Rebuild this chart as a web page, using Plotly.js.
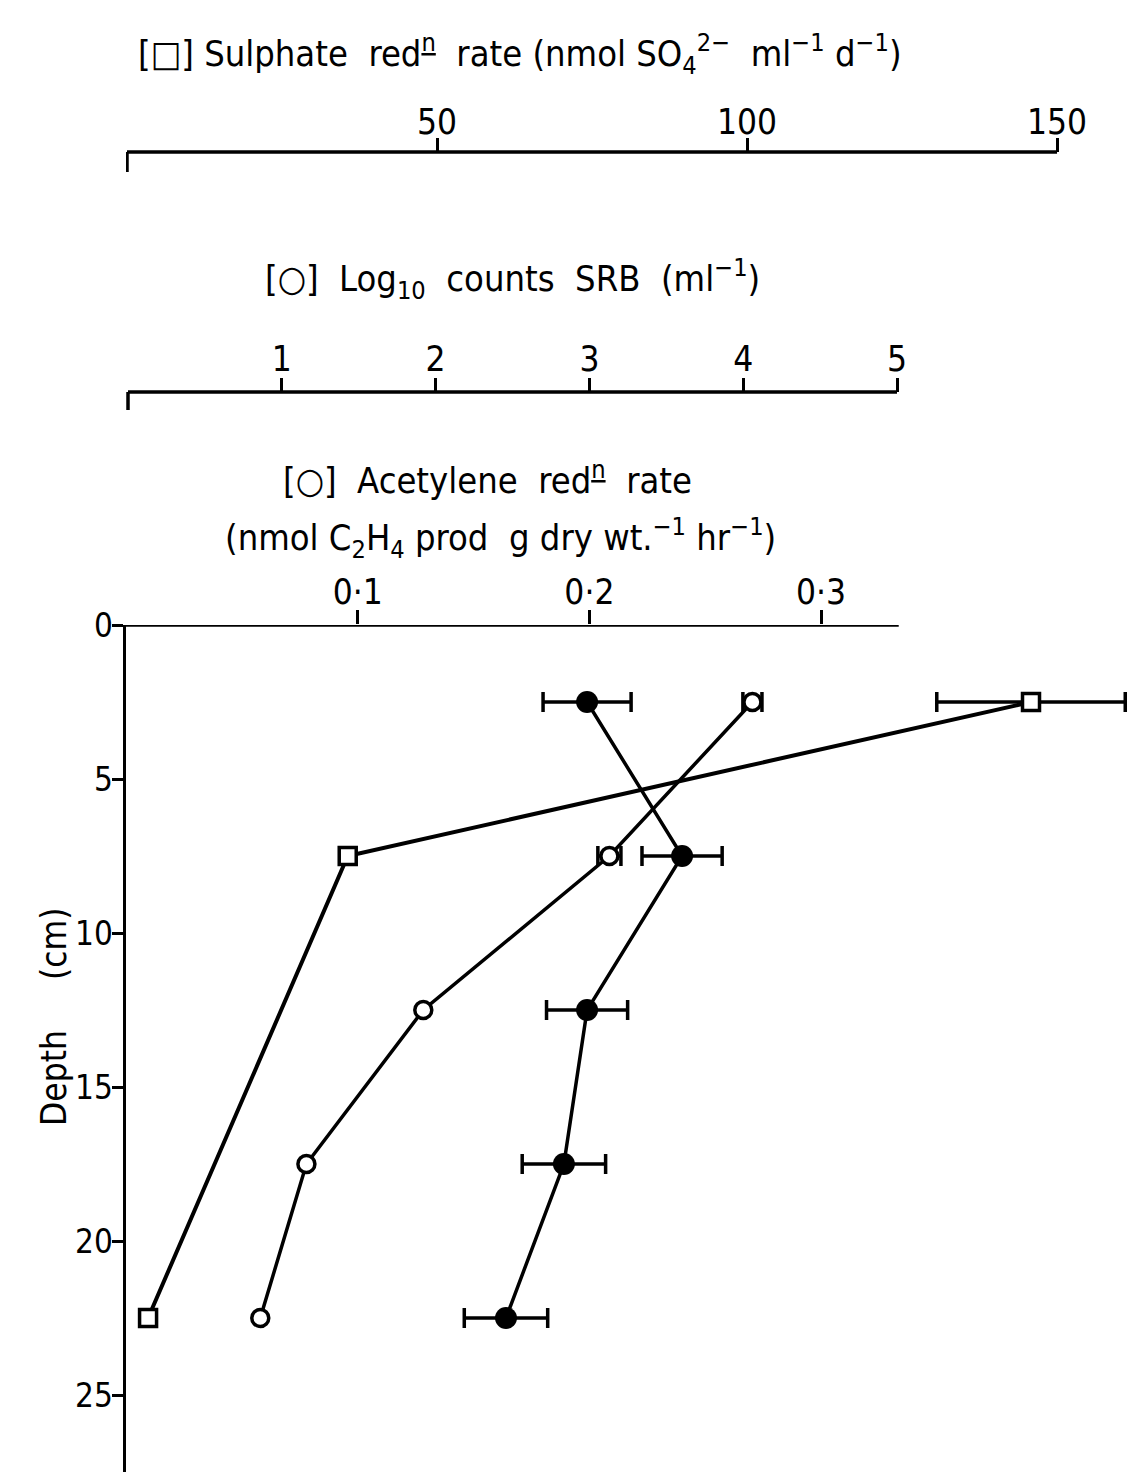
<!DOCTYPE html>
<html><head><meta charset="utf-8">
<script src="https://cdn.plot.ly/plotly-3.0.1.min.js"></script>
<style>html,body{margin:0;padding:0;background:#fff}</style>
</head><body>
<div id="chart" style="width:1142px;height:1472px"></div>
<script>
// ---- data ----
const depthSulphate = [2.5, 7.5, 22.5];
const sulphateRate = [145.8, 35.6, 3.4];
const sulphateErr = [15.2, null, null];

const depthSRB = [2.5, 7.5, 12.5, 17.5, 22.5];
const srbLogCounts = [4.06, 3.13, 1.92, 1.16, 0.86];
const srbErr = [0.062, 0.075, null, null, null];

const depthAcetylene = [2.5, 7.5, 12.5, 17.5, 22.5];
const acetyleneRate = [0.199, 0.240, 0.199, 0.189, 0.164];
const acetyleneErr = [0.019, 0.0173, 0.0175, 0.018, 0.018];

const depthTicks = [0, 5, 10, 15, 20, 25];
const sulphateTicks = [50, 100, 150];
const srbTicks = [1, 2, 3, 4, 5];
const acetyleneTicks = [0.1, 0.2, 0.3];
const acetyleneTickText = ['0·1', '0·2', '0·3'];

// ---- styling ----
const FONT = '"DejaVu Sans Condensed", "Liberation Sans Narrow", "DejaVu Sans", sans-serif';
const INK = '#000';
const W = 1142, H = 1472, L = 126;
const px = v => (v - L) / (W - L);   // pixel x -> paper x
const py = v => 1 - v / H;           // pixel y -> paper y

const traces = [
  {
    x: sulphateRate, y: depthSulphate, xaxis: 'x2', yaxis: 'y',
    mode: 'lines+markers', type: 'scatter',
    line: {color: INK, width: 4},
    marker: {symbol: 'square', size: 17, color: '#fff', line: {color: INK, width: 3.5}},
    error_x: {type: 'data', array: sulphateErr, visible: true, color: INK, thickness: 3.5, width: 10},
    cliponaxis: false
  },
  {
    x: srbLogCounts, y: depthSRB, xaxis: 'x3', yaxis: 'y',
    mode: 'lines+markers', type: 'scatter',
    line: {color: INK, width: 3.5},
    marker: {symbol: 'circle', size: 17, color: '#fff', line: {color: INK, width: 3.5}},
    error_x: {type: 'data', array: srbErr, visible: true, color: INK, thickness: 3.5, width: 10},
    cliponaxis: false
  },
  {
    x: acetyleneRate, y: depthAcetylene, xaxis: 'x', yaxis: 'y',
    mode: 'lines+markers', type: 'scatter',
    line: {color: INK, width: 3.5},
    marker: {symbol: 'circle', size: 22, color: INK},
    error_x: {type: 'data', array: acetyleneErr, visible: true, color: INK, thickness: 3.5, width: 10},
    cliponaxis: false
  }
];

const tickCommon = {
  showgrid: false, zeroline: false, showline: false,
  ticks: 'outside', ticklen: 14, tickwidth: 3, tickcolor: INK,
  tickfont: {family: FONT, size: 35, color: INK}
};

const layout = {
  width: W, height: H,
  margin: {l: L, r: 0, t: 0, b: 0, pad: 0},
  paper_bgcolor: '#fff', plot_bgcolor: '#fff',
  showlegend: false, hovermode: false,
  font: {family: FONT, color: INK},
  xaxis: Object.assign({}, tickCommon, {
    domain: [0, 1], anchor: 'y', side: 'top',
    range: [0, 0.4385], ticklabelstandoff: -8,
    tickmode: 'array', tickvals: acetyleneTicks, ticktext: acetyleneTickText
  }),
  xaxis2: Object.assign({}, tickCommon, {
    overlaying: 'x', anchor: 'free', position: py(152), side: 'top',
    range: [-0.16, 163.7], ticklabelstandoff: -10,
    tickmode: 'array', tickvals: sulphateTicks
  }),
  xaxis3: Object.assign({}, tickCommon, {
    overlaying: 'x', anchor: 'free', position: py(392), side: 'top',
    range: [-0.013, 6.593], ticklabelstandoff: -7,
    tickmode: 'array', tickvals: srbTicks
  }),
  yaxis: {
    domain: [0, py(625)], anchor: 'x',
    range: [27.5, 0],
    showgrid: false, zeroline: false,
    showline: true, linewidth: 3.5, linecolor: INK,
    ticks: 'outside', ticklen: 11, tickwidth: 3, tickcolor: INK,
    ticklabelstandoff: -8,
    tickmode: 'array', tickvals: depthTicks,
    tickfont: {family: FONT, size: 33, color: INK}
  },
  shapes: [
    // axis lines (in each axis' own units)
    {type: 'line', xref: 'x', yref: 'y', x0: 0, x1: 0.3335, y0: 0, y1: 0, line: {color: INK, width: 3.5}},
    {type: 'line', xref: 'x2', yref: 'paper', x0: 0, x1: 150, y0: py(152), y1: py(152), line: {color: INK, width: 3.5}},
    {type: 'line', xref: 'x2', yref: 'paper', x0: 0, x1: 0, y0: py(152), y1: py(172), line: {color: INK, width: 3.5}},
    {type: 'line', xref: 'x3', yref: 'paper', x0: 0, x1: 5, y0: py(392), y1: py(392), line: {color: INK, width: 3.5}},
    {type: 'line', xref: 'x3', yref: 'paper', x0: 0, x1: 0, y0: py(392), y1: py(410), line: {color: INK, width: 3.5}}
  ],
  annotations: [
    {xref: 'paper', yref: 'paper', x: px(520), y: py(54), xanchor: 'center', yanchor: 'middle', showarrow: false,
     font: {family: FONT, size: 36, color: INK},
     text: '[□] Sulphate\u00a0 red<sup><u>n</u></sup>\u00a0 rate (nmol SO<sub>4</sub><sup>2−</sup>\u00a0 ml<sup>−1</sup>\u00a0d<sup>−1</sup>)'},
    {xref: 'paper', yref: 'paper', x: px(512), y: py(279), xanchor: 'center', yanchor: 'middle', showarrow: false,
     font: {family: FONT, size: 36, color: INK},
     text: '[○]\u00a0 Log<sub>10</sub>\u00a0 counts\u00a0 SRB\u00a0 (ml<sup>−1</sup>)'},
    {xref: 'paper', yref: 'paper', x: px(487), y: py(478), xanchor: 'center', yanchor: 'middle', showarrow: false,
     font: {family: FONT, size: 36, color: INK},
     text: '[○]\u00a0 Acetylene\u00a0 red<sup><u>n</u></sup>\u00a0 rate'},
    {xref: 'paper', yref: 'paper', x: px(500), y: py(538), xanchor: 'center', yanchor: 'middle', showarrow: false,
     font: {family: FONT, size: 36, color: INK},
     text: '(nmol C<sub>2</sub>H<sub>4</sub> prod\u00a0 g dry wt.<sup>−1</sup> hr<sup>−1</sup>)'},
    {xref: 'paper', yref: 'paper', x: px(54), y: py(1017), xanchor: 'center', yanchor: 'middle', showarrow: false,
     textangle: -90, font: {family: FONT, size: 35, color: INK},
     text: 'Depth\u00a0\u00a0\u00a0\u00a0\u00a0(cm)'}
  ]
};

Plotly.newPlot('chart', traces, layout, {staticPlot: true, displayModeBar: false});
</script>
</body></html>
